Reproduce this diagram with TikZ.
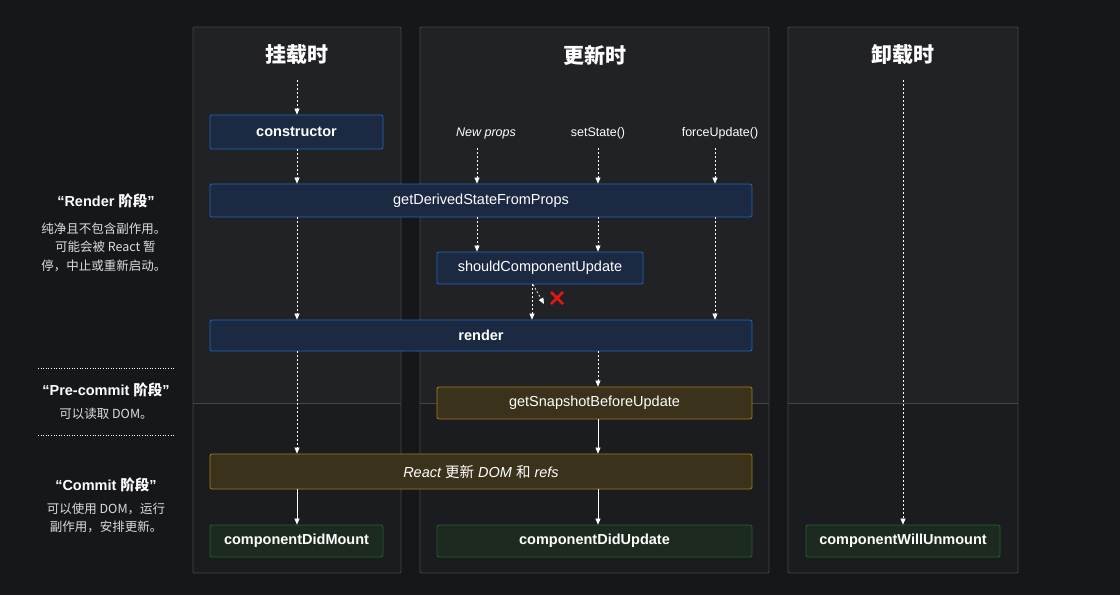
\documentclass[tikz,border=0pt]{standalone}
\usepackage{fontspec}
\setmainfont{Liberation Sans}
\newfontfamily\cjk{Noto Sans CJK SC}
\usetikzlibrary{arrows.meta,calc}
\definecolor{bg}{HTML}{16171B}
\definecolor{panU}{HTML}{212226}
\definecolor{panL}{HTML}{1B1C20}
\definecolor{panB}{HTML}{45464A}
\definecolor{bF}{HTML}{1B2A42}
\definecolor{bB}{HTML}{2266B8}
\definecolor{yF}{HTML}{3A321B}
\definecolor{yB}{HTML}{A57D15}
\definecolor{gF}{HTML}{1C2A1F}
\definecolor{gB}{HTML}{22622A}
\definecolor{txt}{HTML}{DDDDDD}
\definecolor{xred}{HTML}{E61414}
\begin{document}
\begin{tikzpicture}[x=1pt,y=-1pt,
 box/.style={draw,rounded corners=2pt,line width=0.8pt,text=white,font=\fontsize{14.5}{16}\selectfont},
 blue/.style={box,fill=bF,draw=bB},
 yel/.style={box,fill=yF,draw=yB},
 grn/.style={box,fill=gF,draw=gB,font=\fontsize{14.5}{16}\selectfont\bfseries},
 da/.style={white,dashed,dash pattern=on 2pt off 2pt,line width=0.7pt,-{Triangle[width=5pt,length=6pt]}},
 sa/.style={white,line width=0.7pt,-{Triangle[width=5pt,length=6pt]}},
 ttl/.style={text=white,font=\fontsize{21}{24}\selectfont\cjk\bfseries},
 lbl/.style={text=white,font=\fontsize{12.5}{14}\selectfont},
 side/.style={text=white,font=\fontsize{14.5}{17}\selectfont\bfseries},
 sidet/.style={text=txt,font=\fontsize{12.5}{18.5}\selectfont\cjk,align=center}]
\fill[bg] (0,0) rectangle (1120,595);
\useasboundingbox (0,0) rectangle (1120,595);
% panels
\foreach \a/\b in {193/401,420/769,788/1018}{
 \fill[panU] (\a,27) rectangle (\b,403);
 \fill[panL] (\a,403) rectangle (\b,573);
 \draw[panB,line width=0.8pt,rounded corners=1pt] (\a,27) rectangle (\b,573);
 \draw[panB,line width=0.8pt] (\a,403) -- (\b,403);
}
\node[ttl] (t1) at (297,55) {挂载时};
\node[ttl] (t2) at (595,55) {更新时};
\node[ttl] (t3) at (903,55) {卸载时};
% nodes
\node[blue,font=\fontsize{14.5}{16}\selectfont\bfseries,minimum width=173pt,minimum height=34pt] (ctor) at (296.5,132) {constructor};
\node[blue,minimum width=542pt,minimum height=33pt] (gdsfp) at (481,200.5) {getDerivedStateFromProps};
\node[blue,minimum width=206pt,minimum height=32pt] (scu) at (540,268) {shouldComponentUpdate};
\node[blue,minimum width=542pt,minimum height=31pt] (render) at (481,335.5) {};
\node[text=white,font=\fontsize{14.5}{16}\selectfont\bfseries] (rlab) at (481,335.5) {render};
\node[yel,minimum width=315pt,minimum height=32pt] (gsbu) at (594.5,403) {getSnapshotBeforeUpdate};
\node[yel,minimum width=542pt,minimum height=35pt,font=\fontsize{14.5}{16}\selectfont\itshape] (dom) at (481,471.5) {React {\cjk\upshape 更新} DOM {\cjk\upshape 和} refs};
\node[grn,minimum width=173pt,minimum height=32pt] (cdm) at (296.5,541) {componentDidMount};
\node[grn,minimum width=315pt,minimum height=32pt] (cdu) at (594.5,541) {componentDidUpdate};
\node[grn,minimum width=194pt,minimum height=32pt] (cwu) at (903,541) {componentWillUnmount};
% top labels
\node[lbl,font=\fontsize{12.5}{14}\selectfont\itshape] (np) at (486,133) {New props};
\node[lbl] (ss) at (598,133) {setState()};
\node[lbl] (fu) at (720,133) {forceUpdate()};
\coordinate (m0) at (297,80);
\coordinate (u0) at (903,80);
% arrows mount
\draw[da] (m0) -- (ctor.north -| m0);
\draw[da] (ctor.south -| m0) -- (gdsfp.north -| m0);
\draw[da] (gdsfp.south -| m0) -- (render.north -| m0);
\draw[da] (render.south -| m0) -- (dom.north -| m0);
\draw[sa] (dom.south -| m0) -- (cdm.north -| m0);
% update
\draw[da] (477,148) -- (gdsfp.north -| 477,0);
\draw[da] (598,148) -- (gdsfp.north -| 598,0);
\draw[da] (715,148) -- (gdsfp.north -| 715,0);
\draw[da] (gdsfp.south -| 477,0) -- (scu.north -| 477,0);
\draw[da] (gdsfp.south -| 598,0) -- (scu.north -| 598,0);
\draw[da] (gdsfp.south -| 715,0) -- (render.north -| 715,0);
\draw[da] (scu.south -| 532,0) -- (render.north -| 532,0);
\coordinate (xend) at (544,304);
\draw[da] (scu.south -| 533,0) -- (xend);
\coordinate (xm) at (557,298);
\draw[xred,line width=2.6pt] ($(xm)+(-6,-6)$) -- ($(xm)+(6,6)$) ($(xm)+(6,-6)$) -- ($(xm)+(-6,6)$);
\draw[da] (render.south -| 598,0) -- (gsbu.north -| 598,0);
\draw[sa] (gsbu.south -| 598,0) -- (dom.north -| 598,0);
\draw[sa] (dom.south -| 598,0) -- (cdu.north -| 598,0);
\draw[da] (u0) -- (cwu.north);
% side text
\node[side] (rs) at (106,201) {“Render {\cjk 阶段}”};
\node[sidet] (rt) at (104,247) {纯净且不包含副作用。\\ \ 可能会被 React 暂\\ 停，中止或重新启动。};
\draw[white,line width=1pt,dash pattern=on 1pt off 1.6pt] (38,368) -- (174,368);
\node[side] (ps) at (106,390) {“Pre-commit {\cjk 阶段}”};
\node[sidet] (pt) at (106,414) {可以读取 DOM。};
\draw[white,line width=1pt,dash pattern=on 1pt off 1.6pt] (38,435) -- (174,435);
\node[side] (cs) at (106,485) {“Commit {\cjk 阶段}”};
\node[sidet] (ct) at (106,518) {可以使用 DOM，运行\\ 副作用，安排更新。};
\end{tikzpicture}
\end{document}
